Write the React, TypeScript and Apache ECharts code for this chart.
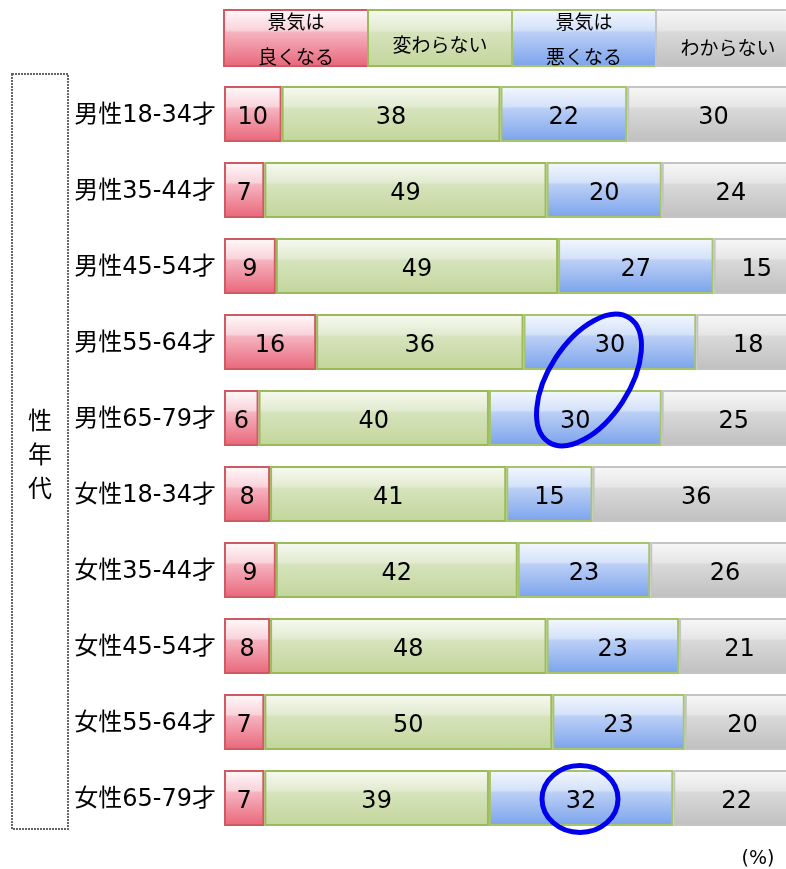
import React, { useEffect, useRef } from "react";
import * as echarts from "echarts";

const categories = [
  "男性18-34才",
  "男性35-44才",
  "男性45-54才",
  "男性55-64才",
  "男性65-79才",
  "女性18-34才",
  "女性35-44才",
  "女性45-54才",
  "女性55-64才",
  "女性65-79才",
];

const seriesNames = ["景気は良くなる", "変わらない", "景気は悪くなる", "わからない"];
const legendLines = [["景気は", "良くなる"], ["変わらない"], ["景気は", "悪くなる"], ["わからない"]];
const sideTitle = ["性", "年", "代"];

const better = [10, 7, 9, 16, 6, 8, 9, 8, 7, 7];
const same = [38, 49, 49, 36, 40, 41, 42, 48, 50, 39];
const worse = [22, 20, 27, 30, 30, 15, 23, 23, 23, 32];
const unknown = [30, 24, 15, 18, 25, 36, 26, 21, 20, 22];

const FONT = "'DejaVu Sans', 'Noto Sans CJK JP', sans-serif";
const CJK = "'Noto Sans CJK JP', sans-serif";

const palettes = [
  { stops: ["#fff8fa", "#f9d3db", "#f6b3c0", "#e8687b"], border: "#cf5a63" },
  { stops: ["#f6f9f0", "#e2ebd0", "#d6e3bc", "#c3d69c"], border: "#9bbb59" },
  { stops: ["#f3f7fe", "#d3e1f9", "#bbcff5", "#7ca4ec"], border: "#a6c46a" },
  { stops: ["#f7f7f7", "#e6e6e6", "#d9d9d9", "#c0c0c0"], border: "#c4c4c4" },
];

function grad(stops: string[]) {
  return new echarts.graphic.LinearGradient(0, 0, 0, 1, [
    { offset: 0, color: stops[0] },
    { offset: 0.36, color: stops[1] },
    { offset: 0.4, color: stops[2] },
    { offset: 1, color: stops[3] },
  ]);
}

export default function App() {
  const ref = useRef<HTMLDivElement>(null);
  useEffect(() => {
    if (!ref.current) return;
    const chart = echarts.init(ref.current, undefined, { renderer: "svg" });
    const values = [better, same, worse, unknown];

    const gridLeft = 224;
    const unitPx = 5.76;
    const legendW = unitPx * 25;

    const graphics: any[] = [];
    palettes.forEach((p, i) => {
      const x = gridLeft + i * legendW;
      graphics.push({
        type: "rect",
        shape: { x, y: 10, width: legendW, height: 56 },
        style: { fill: grad(p.stops), stroke: p.border, lineWidth: 2 },
        z: 10,
      });
      const lines = legendLines[i];
      const txt = (t: string, y: number) => ({
        type: "text",
        x: x + legendW / 2,
        y,
        style: { text: t, font: `19px ${CJK}`, fill: "#000", align: "center", verticalAlign: "middle" },
        z: 11,
      });
      if (lines.length === 2) {
        graphics.push(txt(lines[0], 20));
        graphics.push(txt(lines[1], 55));
      } else {
        graphics.push(txt(lines[0], i === 1 ? 43 : 46));
      }
    });

    graphics.push({
      type: "rect",
      shape: { x: 12, y: 74, width: 56, height: 755 },
      style: { fill: "none", stroke: "#666", lineWidth: 2, lineDash: [2, 1] },
    });
    sideTitle.forEach((ch, i) => {
      graphics.push({
        type: "text",
        x: 40,
        y: 418 + i * 34,
        style: { text: ch, font: `24px ${CJK}`, fill: "#000", align: "center", verticalAlign: "middle" },
      });
    });
    graphics.push({
      type: "text",
      x: 758,
      y: 857,
      style: { text: "(%)", font: `19px ${FONT}`, fill: "#000", align: "center", verticalAlign: "middle" },
    });
    graphics.push({
      type: "ellipse",
      x: 589,
      y: 380,
      rotation: (57 * Math.PI) / 180,
      shape: { cx: 0, cy: 0, rx: 74, ry: 40 },
      style: { fill: "none", stroke: "#0000ee", lineWidth: 5 },
      z: 100,
    });
    graphics.push({
      type: "ellipse",
      shape: { cx: 580, cy: 799, rx: 38, ry: 33.5 },
      style: { fill: "none", stroke: "#0000ee", lineWidth: 5 },
      z: 100,
    });

    const visibleW = 786 - gridLeft;
    chart.setOption({
      animation: false,
      textStyle: { fontFamily: FONT },
      grid: { left: gridLeft, top: 76, right: 0, height: 760, containLabel: false },
      xAxis: { type: "value", min: 0, max: visibleW / unitPx, show: false },
      yAxis: {
        type: "category",
        data: categories,
        inverse: true,
        axisLine: { show: false },
        axisTick: { show: false },
        axisLabel: { fontSize: 24, color: "#000", margin: 8, fontFamily: FONT },
      },
      series: seriesNames.map((name, i) => ({
        name,
        type: "bar",
        stack: "total",
        barWidth: 56,
        clip: false,
        data: values[i],
        itemStyle: { color: grad(palettes[i].stops), borderColor: palettes[i].border, borderWidth: 2 },
        label: { show: true, position: "inside", offset: [0, 2], fontSize: 24, color: "#000", fontFamily: FONT },
      })),
      graphic: graphics,
    });
    return () => chart.dispose();
  }, []);
  return <div ref={ref} style={{ position: "fixed", left: 0, top: 0, width: 786, height: 869 }} />;
}
